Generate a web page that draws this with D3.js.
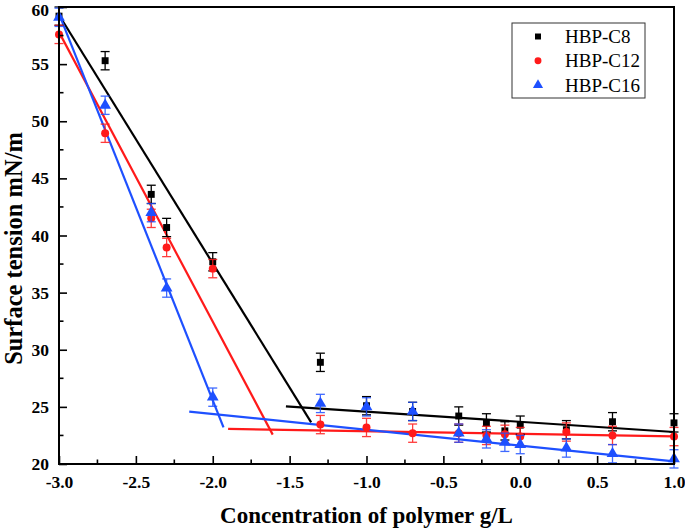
<!DOCTYPE html>
<html>
<head>
<meta charset="utf-8">
<script src="https://cdn.jsdelivr.net/npm/d3@7"></script>
<style>
  html, body { margin: 0; padding: 0; background: #fff; }
  svg { display: block; }
</style>
</head>
<body>
<div id="chart"></div>
<script>
// ---- data ----
const concentrations = [-3.0, -2.7, -2.4, -2.3, -2.0, -1.3, -1.0, -0.7, -0.4, -0.22, -0.1, 0.0, 0.3, 0.6, 1.0];
const seriesNames = ["HBP-C8", "HBP-C12", "HBP-C16"];
const c8Values  = [59.2, 55.3, 43.6, 40.7, 37.7, 28.9, 25.1, 24.6, 24.2, 23.6, 22.9, 23.4, 23.0, 23.7, 23.6];
const c12Values = [57.6, 48.95, 41.5, 38.95, 37.1, 23.45, 23.2, 22.7, 22.7, 22.5, 22.6, 22.4, 22.8, 22.5, 22.4];
const c16Values = [59.1, 51.4, 42.0, 35.4, 25.85, 25.3, 25.0, 24.6, 22.7, 22.2, 21.9, 21.7, 21.4, 20.9, 20.45];
const errorSize = [0.8, 0.8, 0.8, 0.8, 0.8, 0.8, 0.8, 0.8, 0.8, 0.8, 0.8, 0.8, 0.8, 0.8, 0.8];
// fitted line segments [x1, y1, x2, y2]
const c8Fits  = [[-3.0, 59.3, -1.36, 23.65], [-1.524, 25.05, 1.0, 22.8]];
const c12Fits = [[-3.0, 57.8, -1.61, 22.57], [-1.90, 23.07, 1.0, 22.42]];
const c16Fits = [[-3.0, 59.4, -1.93, 23.2], [-2.153, 24.59, 1.0, 20.23]];
const xTicks = [-3.0, -2.5, -2.0, -1.5, -1.0, -0.5, 0.0, 0.5, 1.0];
const yTicks = [20, 25, 30, 35, 40, 45, 50, 55, 60];
const xLabel = "Concentration of polymer g/L";
const yLabel = "Surface tension mN/m";

const colors = ["#000000", "#ff1a1a", "#1e50ff"];
const shapes = [d3.symbolSquare, d3.symbolCircle, d3.symbolTriangle];
const symSizes = [48, 50, 60];

const W = 685, H = 530;
const m = { left: 59, right: 11, top: 7, bottom: 66 };

const svg = d3.select("#chart").append("svg").attr("width", W).attr("height", H);

const x = d3.scaleLinear().domain([-3, 1]).range([m.left, W - m.right]);
const y = d3.scaleLinear().domain([20, 60]).range([H - m.bottom, m.top]);

const serif = "'Liberation Serif', 'Times New Roman', serif";

// clip
svg.append("clipPath").attr("id", "clip").append("rect")
  .attr("x", m.left).attr("y", m.top)
  .attr("width", x(1) - m.left).attr("height", y(20) - m.top);

// fitted lines
const fitsAll = [c8Fits, c12Fits, c16Fits];
const gLines = svg.append("g").attr("clip-path", "url(#clip)");
fitsAll.forEach((fits, i) => {
  gLines.selectAll(null).data(fits).enter().append("line")
    .attr("x1", d => x(d[0])).attr("y1", d => y(d[1]))
    .attr("x2", d => x(d[2])).attr("y2", d => y(d[3]))
    .attr("stroke", colors[i]).attr("stroke-width", 2.2);
});

// points + error bars
const valuesAll = [c8Values, c12Values, c16Values];
valuesAll.forEach((vals, i) => {
  const pts = concentrations.map((c, k) => ({ x: c, y: vals[k], e: errorSize[k] }));
  const g = svg.append("g");
  const eb = g.selectAll(null).data(pts).enter().append("g")
    .attr("stroke", colors[i]).attr("stroke-width", 1.3).attr("opacity", i === 0 ? 1 : 0.85);
  eb.append("line")
    .attr("x1", d => x(d.x)).attr("x2", d => x(d.x))
    .attr("y1", d => y(d.y - d.e)).attr("y2", d => y(Math.min(60, d.y + d.e)));
  eb.append("line")
    .attr("x1", d => x(d.x) - 4.5).attr("x2", d => x(d.x) + 4.5)
    .attr("y1", d => y(d.y - d.e)).attr("y2", d => y(d.y - d.e));
  eb.filter(d => d.y + d.e <= 60).append("line")
    .attr("x1", d => x(d.x) - 4.5).attr("x2", d => x(d.x) + 4.5)
    .attr("y1", d => y(d.y + d.e)).attr("y2", d => y(d.y + d.e));
  g.selectAll(null).data(pts).enter().append("path")
    .attr("d", d3.symbol().type(shapes[i]).size(symSizes[i]))
    .attr("transform", d => `translate(${x(d.x)},${y(d.y)})`)
    .attr("fill", colors[i]);
});

// axes (ticks inward)
const xAxis = d3.axisBottom(x).tickValues(xTicks).tickFormat(d3.format(".1f")).tickSizeInner(-8).tickSizeOuter(0).tickPadding(12);
const gx = svg.append("g").attr("transform", `translate(0,${y(20)})`).call(xAxis);
gx.select(".domain").remove();
gx.selectAll(".tick line").attr("stroke", "#000").attr("stroke-width", 1.6);
gx.selectAll(".tick text").attr("font-family", serif).attr("font-weight", "bold")
  .attr("font-size", 17.5).attr("fill", "#000").text(d => d3.format(".1f")(d).replace("−", "-"));

const xMinor = d3.range(-2.75, 1, 0.5);
svg.append("g").selectAll(null).data(xMinor).enter().append("line")
  .attr("x1", d => x(d)).attr("x2", d => x(d))
  .attr("y1", y(20)).attr("y2", y(20) - 4.5)
  .attr("stroke", "#000").attr("stroke-width", 1.6);

const yAxis = d3.axisLeft(y).tickValues(yTicks).tickFormat(d3.format("d")).tickSizeInner(-8).tickSizeOuter(0).tickPadding(10);
const gy = svg.append("g").attr("transform", `translate(${m.left},0)`).call(yAxis);
gy.select(".domain").remove();
gy.selectAll(".tick line").attr("stroke", "#000").attr("stroke-width", 1.6);
gy.selectAll(".tick text").attr("font-family", serif).attr("font-weight", "bold")
  .attr("font-size", 17.5).attr("fill", "#000")
  .attr("dy", d => d === 60 ? "0.5em" : "0.32em");

const yMinor = d3.range(22.5, 60, 5);
svg.append("g").selectAll(null).data(yMinor).enter().append("line")
  .attr("x1", m.left).attr("x2", m.left + 4.5)
  .attr("y1", d => y(d)).attr("y2", d => y(d))
  .attr("stroke", "#000").attr("stroke-width", 1.6);

// frame
svg.append("rect")
  .attr("x", m.left).attr("y", m.top)
  .attr("width", x(1) - m.left).attr("height", y(20) - m.top)
  .attr("fill", "none").attr("stroke", "#000").attr("stroke-width", 2);

// axis titles
svg.append("text")
  .attr("x", (x(-3) + x(1)) / 2).attr("y", 523)
  .attr("text-anchor", "middle")
  .attr("font-family", serif).attr("font-weight", "bold").attr("font-size", 23)
  .text(xLabel);

svg.append("text")
  .attr("transform", `translate(22,${(y(20) + y(60)) / 2 + 13}) rotate(-90)`)
  .attr("text-anchor", "middle")
  .attr("font-family", serif).attr("font-weight", "bold").attr("font-size", 24.5)
  .text(yLabel);

// legend
const lg = svg.append("g");
lg.append("rect").attr("x", 512).attr("y", 23).attr("width", 133).attr("height", 75)
  .attr("fill", "#fff").attr("stroke", "#333").attr("stroke-width", 1);
seriesNames.forEach((name, i) => {
  const yy = 36.5 + i * 24.3;
  lg.append("path")
    .attr("d", d3.symbol().type(shapes[i]).size(symSizes[i] * 0.75))
    .attr("transform", `translate(538,${yy})`)
    .attr("fill", colors[i]);
  lg.append("text").attr("x", 565).attr("y", yy + 6.5)
    .attr("font-family", serif).attr("font-size", 19).attr("fill", "#000")
    .text(name);
});
</script>
</body>
</html>
